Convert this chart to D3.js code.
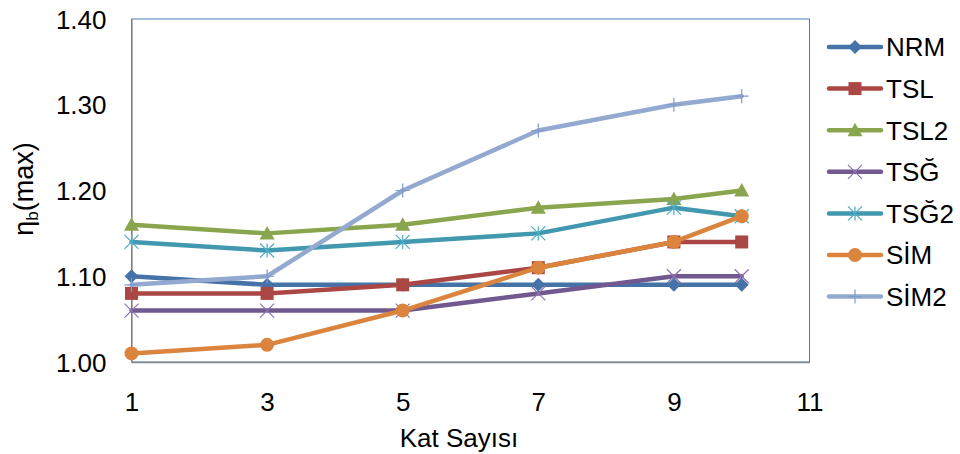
<!DOCTYPE html>
<html>
<head>
<meta charset="utf-8">
<script src="https://cdn.jsdelivr.net/npm/d3@7"></script>
<style>
  html, body { margin: 0; padding: 0; background: #fff; }
  svg { display: block; font-family: "Liberation Sans", Arial, sans-serif; }
</style>
</head>
<body>
<svg id="chart" width="960" height="454"></svg>
<script>
// Number of storeys (x) and the η_b(max) values of each model
const katSayisi = [1, 3, 5, 7, 9, 10];
const seriesNames = ["NRM", "TSL", "TSL2", "TSĞ", "TSĞ2", "SİM", "SİM2"];
const NRM  = [1.10, 1.09, 1.09, 1.09, 1.09, 1.09];
const TSL  = [1.08, 1.08, 1.09, 1.11, 1.14, 1.14];
const TSL2 = [1.16, 1.15, 1.16, 1.18, 1.19, 1.20];
const TSG  = [1.06, 1.06, 1.06, 1.08, 1.10, 1.10];
const TSG2 = [1.14, 1.13, 1.14, 1.15, 1.18, 1.17];
const SIM  = [1.01, 1.02, 1.06, 1.11, 1.14, 1.17];
const SIM2 = [1.09, 1.10, 1.20, 1.27, 1.30, 1.31];
const xTicks = [1, 3, 5, 7, 9, 11];
const yTicks = [1.00, 1.10, 1.20, 1.30, 1.40];

const seriesValues = [NRM, TSL, TSL2, TSG, TSG2, SIM, SIM2];
const colors = ["#4572A7", "#AA4643", "#89A54E", "#71588F", "#4198AF", "#DB843D", "#93A9CF"];
const markerColors = ["#4572A7", "#AA4643", "#89A54E", "#8c73b0", "#4bacc6", "#DB843D", "#7f9ccc"];
const markerTypes = ["diamond", "square", "triangle", "x", "asterisk", "circle", "plus"];

const svg = d3.select("#chart");
const plot = { left: 131.5, right: 809.5, top: 19, bottom: 362 };
const fontSize = 26;

const x = d3.scaleLinear().domain([1, 11]).range([plot.left, plot.right]);
const y = d3.scaleLinear().domain([1.0, 1.4]).range([plot.bottom, plot.top]);

// Plot-area frame
svg.append("rect")
  .attr("x", plot.left).attr("y", plot.top)
  .attr("width", plot.right - plot.left).attr("height", plot.bottom - plot.top)
  .attr("fill", "none").attr("stroke", "#4a7ebb").attr("stroke-width", 1);

// Axes (lines only, no tick marks)
const xAxis = d3.axisBottom(x).tickValues(xTicks).tickSize(0).tickPadding(0).tickFormat(d3.format("d"));
const yAxis = d3.axisLeft(y).tickValues(yTicks).tickSize(0).tickPadding(0).tickFormat(d3.format(".2f"));

const gx = svg.append("g").attr("transform", `translate(0,${plot.bottom})`).call(xAxis);
gx.select(".domain").attr("stroke", "#868686").attr("stroke-width", 1.3);
gx.selectAll(".tick text")
  .attr("y", 49).attr("dy", 0)
  .attr("font-size", fontSize).attr("font-family", "Liberation Sans, Arial, sans-serif")
  .attr("fill", "#000");

const gy = svg.append("g").attr("transform", `translate(${plot.left},0)`).call(yAxis);
gy.select(".domain").attr("stroke", "#868686").attr("stroke-width", 1.3);
gy.selectAll(".tick text")
  .attr("x", -25).attr("dy", "0.35em")
  .attr("font-size", fontSize).attr("font-family", "Liberation Sans, Arial, sans-serif")
  .attr("fill", "#000");

// Axis titles
svg.append("text")
  .attr("x", 459).attr("y", 447)
  .attr("text-anchor", "middle")
  .attr("font-size", fontSize).attr("fill", "#000")
  .text("Kat Sayısı");

const yt = svg.append("text")
  .attr("transform", "translate(33,189) rotate(-90)")
  .attr("text-anchor", "middle")
  .attr("font-size", 27).attr("fill", "#000");
yt.append("tspan").text("η");
yt.append("tspan").attr("font-size", 17).attr("dy", 5).text("b");
yt.append("tspan").attr("dy", -5).text("(max)");

// Marker drawing
function drawMarker(g, type, cx, cy, color) {
  const s = 7;
  if (type === "diamond") {
    g.append("path").attr("d", `M${cx},${cy - s}L${cx + s},${cy}L${cx},${cy + s}L${cx - s},${cy}Z`).attr("fill", color);
  } else if (type === "square") {
    g.append("rect").attr("x", cx - 6.5).attr("y", cy - 6.5).attr("width", 13).attr("height", 13).attr("fill", color);
  } else if (type === "triangle") {
    g.append("path").attr("d", `M${cx},${cy - 7.5}L${cx + 7.5},${cy + 6}L${cx - 7.5},${cy + 6}Z`).attr("fill", color);
  } else if (type === "circle") {
    g.append("circle").attr("cx", cx).attr("cy", cy).attr("r", 7).attr("fill", color);
  } else if (type === "x") {
    g.append("path").attr("d", `M${cx - s},${cy - s}L${cx + s},${cy + s}M${cx - s},${cy + s}L${cx + s},${cy - s}`)
      .attr("stroke", color).attr("stroke-width", 1.2).attr("fill", "none");
  } else if (type === "asterisk") {
    g.append("path").attr("d", `M${cx - s},${cy - s}L${cx + s},${cy + s}M${cx - s},${cy + s}L${cx + s},${cy - s}M${cx},${cy - s}L${cx},${cy + s}`)
      .attr("stroke", color).attr("stroke-width", 1.2).attr("fill", "none");
  } else if (type === "plus") {
    g.append("path").attr("d", `M${cx - s},${cy}L${cx + s},${cy}M${cx},${cy - s}L${cx},${cy + s}`)
      .attr("stroke", color).attr("stroke-width", 1.2).attr("fill", "none");
  }
}

const line = d3.line().x(d => x(d[0])).y(d => y(d[1]));

seriesValues.forEach((vals, i) => {
  const g = svg.append("g");
  const pts = katSayisi.map((k, j) => [k, vals[j]]);
  g.append("path").datum(pts)
    .attr("d", line)
    .attr("fill", "none")
    .attr("stroke", colors[i])
    .attr("stroke-width", 4.5)
    .attr("stroke-linejoin", "round")
    .attr("stroke-linecap", "round");
  pts.forEach(p => drawMarker(g, markerTypes[i], x(p[0]), y(p[1]), markerColors[i]));
});

// Legend
const legend = svg.append("g");
seriesNames.forEach((name, i) => {
  const cy = 47 + i * 41.6;
  const g = legend.append("g");
  g.append("line")
    .attr("x1", 829).attr("x2", 881).attr("y1", cy).attr("y2", cy)
    .attr("stroke", colors[i]).attr("stroke-width", 4.5).attr("stroke-linecap", "round");
  drawMarker(g, markerTypes[i], 855, cy, markerColors[i]);
  g.append("text")
    .attr("x", 886).attr("y", cy).attr("dy", "0.36em")
    .attr("font-size", fontSize).attr("fill", "#000")
    .text(name);
});
</script>
</body>
</html>
